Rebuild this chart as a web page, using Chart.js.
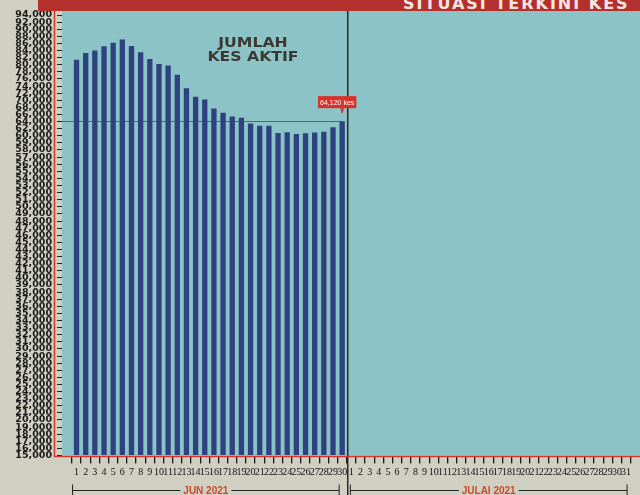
<!DOCTYPE html>
<html>
<head>
<meta charset="utf-8">
<script src="https://cdn.jsdelivr.net/npm/chart.js@4.4.1/dist/chart.umd.min.js"></script>
<style>
  html, body { margin: 0; padding: 0; width: 640px; height: 495px; overflow: hidden; background: #cfd0c2; }
  #wrap { position: relative; width: 640px; height: 495px; }
  canvas { position: absolute; left: 0; top: 0; }
  #band { position: absolute; left: 38px; top: 0; width: 602px; height: 11px; background: #b3302c; overflow: hidden; }
  #band span { position: absolute; left: 365px; top: -6px; line-height: 16px; font: bold 16px "DejaVu Sans", sans-serif; color: #f3e6e2; letter-spacing: 2px; white-space: nowrap; }
</style>
</head>
<body>
<div id="wrap">
  <canvas id="c" width="640" height="495"></canvas>
  <div id="band"><span>SITUASI TERKINI KES</span></div>
</div>
<script>
// ---------- DATA ----------
const juneDays = ['1','2','3','4','5','6','7','8','9','10','11','12','13','14','15','16','17','18','19','20','21','22','23','24','25','26','27','28','29','30'];
const julyDays = ['1','2','3','4','5','6','7','8','9','10','11','12','13','14','15','16','17','18','19','20','21','22','23','24','25','26','27','28','29','30','31'];
const categories = juneDays.concat(julyDays);
const activeCases = [81400, 83300, 84000, 85200, 86200, 87100, 85300, 83500, 81600, 80200,
                     79800, 77200, 73400, 71000, 70200, 67700, 66500, 65400, 65100, 63450,
                     62850, 62850, 60800, 61000, 60500, 60700, 60900, 61100, 62400, 64120];
const yTickValues = [15000,16000,17000,18000,19000,20000,21000,22000,23000,24000,25000,26000,27000,28000,29000,30000,
                     31000,32000,33000,34000,35000,36000,37000,38000,39000,40000,41000,42000,43000,44000,45000,46000,
                     47000,48000,49000,50000,51000,52000,53000,54000,55000,56000,57000,58000,59000,60000,
                     62000,64000,66000,68000,70000,72000,74000,76000,78000,80000,82000,84000,86000,88000,90000,92000,94000];
const monthNames = ['JUN 2021', 'JULAI 2021'];
const titleLines = ['JUMLAH', 'KES AKTIF'];
const latestLabel = '64,120 kes';

// ---------- evenly spaced tick axis (ticks evenly spaced, values interpolated between ticks) ----------
function valueToUnit(v) {
  const t = yTickValues, n = t.length;
  if (v <= t[0]) return (v - t[0]) / (t[1] - t[0]);
  for (let i = 0; i < n - 1; i++) {
    if (v <= t[i + 1]) return i + (v - t[i]) / (t[i + 1] - t[i]);
  }
  return (n - 1) + (v - t[n - 1]) / (t[n - 1] - t[n - 2]);
}
function unitToValue(u) {
  const t = yTickValues, n = t.length;
  const i = Math.max(0, Math.min(n - 2, Math.floor(u)));
  return t[i] + (u - i) * (t[i + 1] - t[i]);
}
class EvenTickScale extends Chart.LinearScale {
  buildTicks() {
    this.start = this.min; this.end = this.max;
    return yTickValues.map(v => ({ value: v }));
  }
  getPixelForValue(value) {
    if (value === null || value === undefined || Number.isNaN(value)) return NaN;
    return this.getPixelForDecimal(valueToUnit(value) / (yTickValues.length - 1));
  }
  getValueForPixel(pixel) {
    return unitToValue(this.getDecimalForPixel(pixel) * (yTickValues.length - 1));
  }
}
EvenTickScale.id = 'evenTicks';
EvenTickScale.defaults = {};
Chart.register(EvenTickScale);

// ---------- decorations ----------
const extras = {
  id: 'extras',
  beforeDraw(chart) {
    const { ctx, chartArea: a } = chart;
    ctx.save();
    ctx.fillStyle = '#8cc3c6';
    ctx.fillRect(a.left, 11, a.right - a.left, a.bottom - 11);
    ctx.restore();
  },
  beforeDatasetsDraw(chart) {
    const { ctx, chartArea: a, scales: { x, y } } = chart;
    const last = activeCases.length;
    const yy = Math.round(y.getPixelForValue(activeCases[last - 1])) + 0.5;
    ctx.save();
    ctx.strokeStyle = '#93503f';
    ctx.lineWidth = 1;
    ctx.beginPath();
    ctx.moveTo(a.left, yy);
    ctx.lineTo(x.getPixelForValue(last), yy);
    ctx.stroke();
    ctx.restore();
  },
  afterDatasetsDraw(chart) {
    const { ctx, chartArea: a, scales: { x, y } } = chart;
    ctx.save();
    // separator between months
    const sx = x.getPixelForValue(juneDays.length + 0.5) + 1;
    ctx.strokeStyle = '#2a2a26';
    ctx.lineWidth = 1.5;
    ctx.beginPath(); ctx.moveTo(sx, 11); ctx.lineTo(sx, 495); ctx.stroke();
    // red frame
    ctx.strokeStyle = '#d6362c';
    ctx.lineWidth = 1.5;
    ctx.beginPath();
    ctx.moveTo(54.5, 11); ctx.lineTo(54.5, a.bottom + 1);
    ctx.lineTo(a.right, a.bottom + 1);
    ctx.stroke();
    // callout
    const last = activeCases.length;
    const bx = x.getPixelForValue(last);
    const by = y.getPixelForValue(activeCases[last - 1]);
    ctx.font = '7px "Liberation Sans", Arial, sans-serif';
    const w = ctx.measureText(latestLabel).width + 4;
    const cx = bx - 5, top = by - 25, h = 12;
    ctx.fillStyle = '#d9302a';
    ctx.fillRect(cx - w / 2, top, w, h);
    ctx.beginPath();
    ctx.moveTo(bx - 2, top + h); ctx.lineTo(bx + 2, top + h); ctx.lineTo(bx, top + h + 6); ctx.closePath();
    ctx.fill();
    ctx.fillStyle = '#ffffff';
    ctx.textAlign = 'center'; ctx.textBaseline = 'middle';
    ctx.fillText(latestLabel, cx, top + h / 2 + 0.5);
    // title
    ctx.fillStyle = '#3a3a33';
    ctx.font = 'bold 14px "DejaVu Sans", sans-serif';
    [[titleLines[0], 253, 43], [titleLines[1], 253, 57]].forEach(([t, px, py]) => {
      ctx.save();
      ctx.translate(px, py);
      ctx.scale(1.12, 1);
      ctx.fillText(t, 0, 0);
      ctx.restore();
    });
    // month brackets
    const brackets = [
      [x.getPixelForValue(1) - 4, x.getPixelForValue(juneDays.length) - 3, monthNames[0]],
      [x.getPixelForValue(juneDays.length + 1) - 1, x.getPixelForValue(categories.length) + 1, monthNames[1]]
    ];
    ctx.font = 'bold 10px "Liberation Sans", Arial, sans-serif';
    brackets.forEach(([x1, x2, label]) => {
      const yb = 490.5;
      const tw = ctx.measureText(label).width;
      const mx = (x1 + x2) / 2;
      ctx.strokeStyle = '#222';
      ctx.lineWidth = 1;
      ctx.beginPath();
      ctx.moveTo(x1, yb); ctx.lineTo(mx - tw / 2 - 3, yb);
      ctx.moveTo(mx + tw / 2 + 3, yb); ctx.lineTo(x2, yb);
      ctx.moveTo(x1, yb - 6); ctx.lineTo(x1, yb + 6);
      ctx.moveTo(x2, yb - 6); ctx.lineTo(x2, yb + 6);
      ctx.stroke();
      ctx.fillStyle = '#cc4a2a';
      ctx.fillText(label, mx, yb + 0.5);
    });
    ctx.restore();
  }
};

new Chart(document.getElementById('c'), {
  type: 'bar',
  data: {
    datasets: [{
      data: activeCases.map((v, i) => ({ x: i + 1, y: v })),
      backgroundColor: '#2e4280',
      barPercentage: 0.58,
      categoryPercentage: 1,
      base: yTickValues[0]
    }]
  },
  options: {
    responsive: false,
    animation: false,
    events: [],
    layout: { padding: { top: 15, left: 0, right: 0, bottom: 0 } },
    plugins: { legend: { display: false }, tooltip: { enabled: false }, title: { display: false } },
    scales: {
      x: {
        type: 'linear',
        min: -0.07,
        max: 62.0,
        afterBuildTicks: s => { s.ticks = categories.map((c, i) => ({ value: i + 1 })); },
        afterFit: s => { s.height = 39.5; },
        border: { display: false },
        grid: { drawOnChartArea: false, drawTicks: true, tickLength: 8, color: '#1a1a1a', lineWidth: 1.3 },
        ticks: {
          autoSkip: false, maxRotation: 0, minRotation: 0, padding: 3,
          color: '#111111',
          font: { family: '"Liberation Serif", serif', size: 10 },
          callback: v => categories[v - 1]
        }
      },
      y: {
        type: 'evenTicks',
        min: yTickValues[0],
        max: yTickValues[yTickValues.length - 1],
        afterFit: s => { s.width = 62; },
        border: { display: false },
        grid: { drawOnChartArea: false, drawTicks: true, tickLength: 5, color: '#222', lineWidth: 1 },
        ticks: {
          autoSkip: false, padding: 5,
          color: '#1a1a1a',
          font: { family: '"DejaVu Sans", sans-serif', size: 9.5, weight: 'bold' },
          callback: v => Number(v).toLocaleString('en-US')
        }
      }
    }
  },
  plugins: [extras]
});
</script>
</body>
</html>
